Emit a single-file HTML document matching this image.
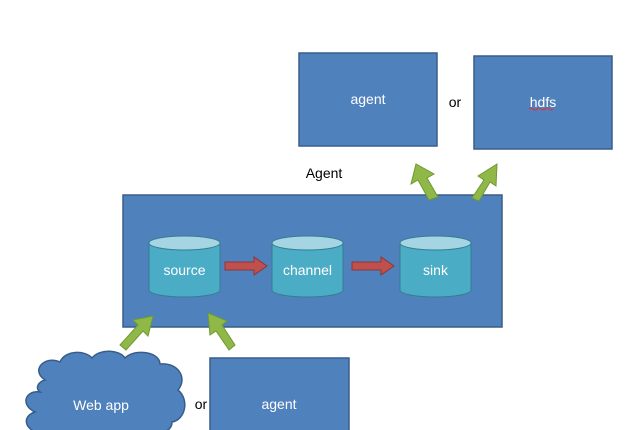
<!DOCTYPE html>
<html><head><style>
body{margin:0;background:#fff;}
svg{display:block;font-family:"Liberation Sans",sans-serif;}
</style></head><body>
<svg width="640" height="430" viewBox="0 0 640 430">
<defs>
<marker id="g" viewBox="0 0 10 10" refX="5" refY="5" markerWidth="2.2" markerHeight="2.2" orient="auto"><path d="M0,0L10,5L0,10z" fill="#8fb848" stroke="#6f9a2f"/></marker>
</defs>
<rect width="640" height="430" fill="#fff"/>
<rect x="299" y="53" width="138" height="93" fill="#4f81bd" stroke="#385d8a" stroke-width="1.5"/>
<text x="368" y="104" fill="#fff" font-size="14" text-anchor="middle">agent</text>
<text x="455" y="107" fill="#000" font-size="14" text-anchor="middle">or</text>
<rect x="474" y="56" width="138" height="93" fill="#4f81bd" stroke="#385d8a" stroke-width="1.5"/>
<text x="543" y="107" fill="#fff" font-size="14" text-anchor="middle">hdfs</text>
<path d="M529,109 q2,-2 4,0 t4,0 t4,0 t4,0 t4,0 t4,0" stroke="#e03030" fill="none" stroke-width="1"/>
<text x="324" y="178" fill="#000" font-size="14" text-anchor="middle">Agent</text>
<rect x="123" y="195" width="379" height="132" fill="#4f81bd" stroke="#385d8a" stroke-width="1.5"/>
<g stroke="#6f9a2f" stroke-width="1">
<path d="M429,200 L418,180 L411,184 L416,164 L434,174 L427,178 L438,197 Z" fill="#8fb848"/>
<path d="M472,198 L484,180 L478,176 L497,164 L496,186 L490,182 L479,201 Z" fill="#8fb848"/>
<path d="M120,345 L138,325 L133,320 L153,316 L148,336 L143,331 L126,350 Z" fill="#8fb848"/>
<path d="M229,350 L216,331 L210,335 L208,313 L227,321 L222,325 L235,345 Z" fill="#8fb848"/>
</g>
<g>
<g transform="translate(149,0)">
<path d="M0,243 L0,290 A35.5,7 0 0 0 71,290 L71,243" fill="#4bacc6" stroke="#357d91" stroke-width="1"/>
<ellipse cx="35.5" cy="243" rx="35.5" ry="7" fill="#a5d5e2" stroke="#357d91" stroke-width="1"/>
<text x="35.5" y="275" fill="#fff" font-size="14" text-anchor="middle">source</text>
</g>
<g transform="translate(272,0)">
<path d="M0,243 L0,290 A35.5,7 0 0 0 71,290 L71,243" fill="#4bacc6" stroke="#357d91" stroke-width="1"/>
<ellipse cx="35.5" cy="243" rx="35.5" ry="7" fill="#a5d5e2" stroke="#357d91" stroke-width="1"/>
<text x="35.5" y="275" fill="#fff" font-size="14" text-anchor="middle">channel</text>
</g>
<g transform="translate(400,0)">
<path d="M0,243 L0,290 A35.5,7 0 0 0 71,290 L71,243" fill="#4bacc6" stroke="#357d91" stroke-width="1"/>
<ellipse cx="35.5" cy="243" rx="35.5" ry="7" fill="#a5d5e2" stroke="#357d91" stroke-width="1"/>
<text x="35.5" y="275" fill="#fff" font-size="14" text-anchor="middle">sink</text>
</g>
</g>
<path d="M225,262 L254,262 L254,257 L267,266 L254,275 L254,270 L225,270 Z" fill="#c0504d" stroke="#8c3836"/>
<path d="M352,262 L381,262 L381,257 L394,266 L381,275 L381,270 L352,270 Z" fill="#c0504d" stroke="#8c3836"/>
<path d="M45,380 C30,370 45,355 60,362 C65,350 85,350 92,358 C100,348 120,350 125,358 C135,348 160,352 160,364 C178,362 188,378 178,390 C190,400 185,420 172,422 C172,432 160,434 150,432 L35,432 C22,425 25,415 35,412 C20,405 25,390 40,392 C35,388 38,382 45,380 Z" fill="#4f81bd" stroke="#385d8a" stroke-width="1.5"/>
<text x="101" y="410" fill="#fff" font-size="14" text-anchor="middle">Web app</text>
<text x="201" y="409" fill="#000" font-size="14" text-anchor="middle">or</text>
<rect x="210" y="358" width="139" height="80" fill="#4f81bd" stroke="#385d8a" stroke-width="1.5"/>
<text x="279" y="409" fill="#fff" font-size="14" text-anchor="middle">agent</text>
</svg>
</body></html>
